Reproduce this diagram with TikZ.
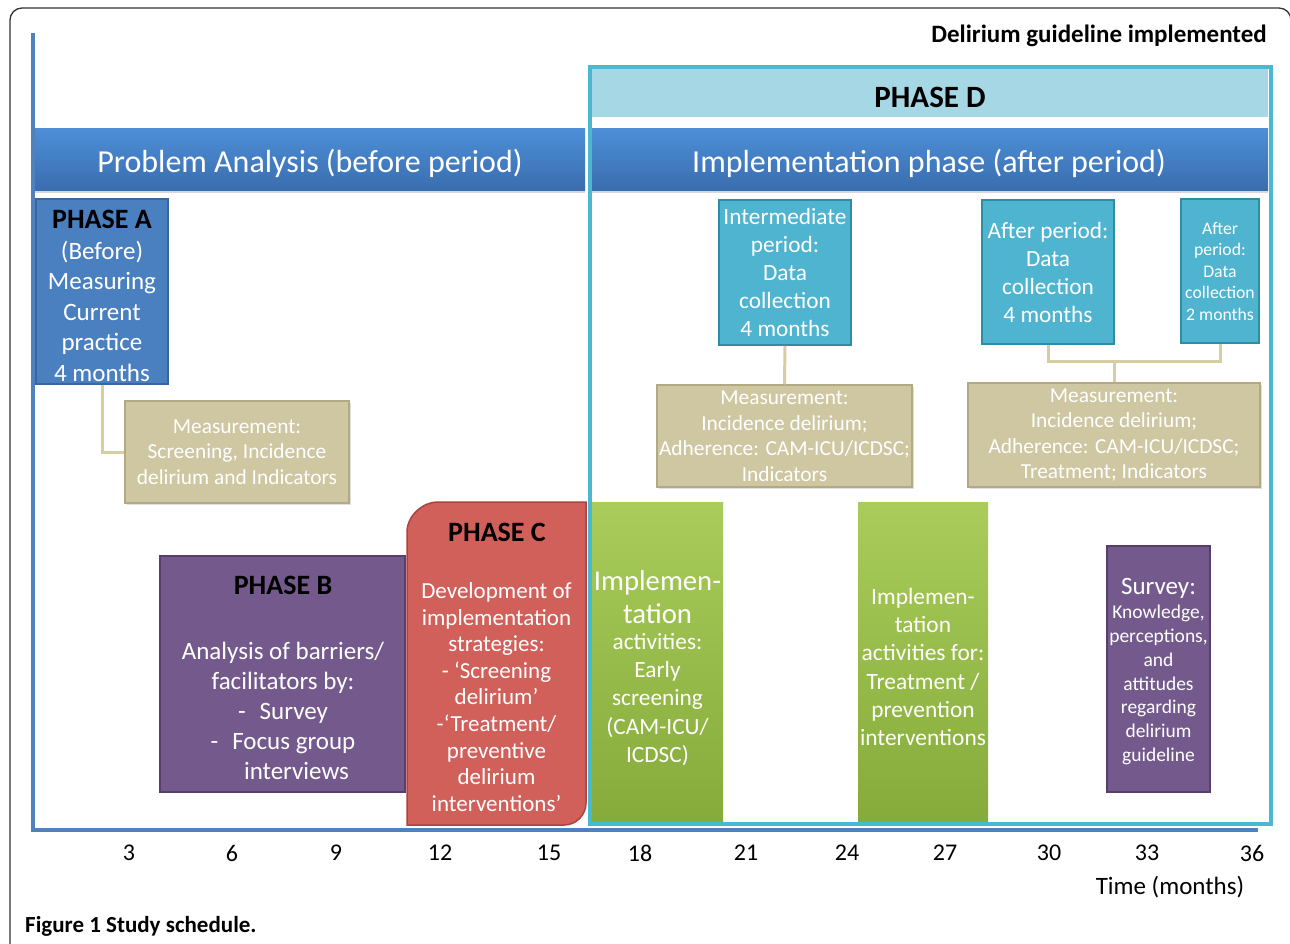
\documentclass[tikz,border=0pt]{standalone}
\usepackage{fontspec}
\setmainfont{Carlito}
\usetikzlibrary{shadows}
\newcommand{\fsz}[2]{\fontsize{#1}{#2}\selectfont}
\definecolor{axisblue}{HTML}{4F81BD}
\definecolor{hdrtop}{HTML}{4D8FD8}
\definecolor{hdrbot}{HTML}{3A6DAE}
\definecolor{dcyan}{HTML}{4BB8D2}
\definecolor{dband}{HTML}{A6D7E5}
\definecolor{pablue}{HTML}{4A80C0}
\definecolor{pablueb}{HTML}{3866A0}
\definecolor{tanfill}{HTML}{CEC7A1}
\definecolor{tanborder}{HTML}{B3AA84}
\definecolor{tanline}{HTML}{D6CDA3}
\definecolor{cyanfill}{HTML}{4FB4CF}
\definecolor{cyanborder}{HTML}{2E8CA6}
\definecolor{purfill}{HTML}{745A8C}
\definecolor{purborder}{HTML}{563F6D}
\definecolor{redfill}{HTML}{D1605A}
\definecolor{redborder}{HTML}{A94440}
\definecolor{grtop}{HTML}{A9CC5A}
\definecolor{grbot}{HTML}{86AB3B}
\definecolor{framegray}{HTML}{333333}
\tikzset{
  boxbase/.style={rectangle, inner sep=0pt, line width=1.5pt, align=center, text=white},
  hdr/.style={boxbase, top color=hdrtop, bottom color=hdrbot, draw=none, minimum height=62pt,
    font=\fsz{32}{36}, drop shadow={opacity=0.3, shadow xshift=0pt, shadow yshift=-3pt}},
  pabox/.style={boxbase, fill=pablue, draw=pablueb, minimum width=132pt, minimum height=185pt, font=\fsz{25}{30.5}},
  tanbox/.style={boxbase, fill=tanfill, draw=tanborder, font=\fsz{21.4}{25.5},
    drop shadow={opacity=0.25, shadow xshift=2pt, shadow yshift=-2pt}},
  cybox/.style={boxbase, fill=cyanfill, draw=cyanborder, font=\fsz{23.3}{28}},
  purbox/.style={boxbase, fill=purfill, draw=purborder},
  grbox/.style={boxbase, top color=grtop, bottom color=grbot, draw=none, minimum width=131pt, minimum height=320pt},
  wtext/.style={inner sep=0pt, align=center, text=white},
  btitle/.style={inner sep=0pt, font=\fsz{28}{30}\bfseries, text=black},
  conn/.style={draw=tanline, line width=3pt},
  axisline/.style={draw=axisblue, line width=4pt},
  axlab/.style={inner sep=0pt, font=\fsz{24}{24}, text=black},
}
\begin{document}
\begin{tikzpicture}[x=1pt,y=-1pt]
\useasboundingbox (0,0) rectangle (1290,943);
\fill[white] (0,0) rectangle (1290,943);
% outer frame
\draw[framegray, line width=1.3pt, rounded corners=12pt] (10,960) -- (10,8) -- (1291,8) -- (1291,960);

% axes
\coordinate (ytop) at (33,33);
\coordinate (orig) at (33,830);
\coordinate (xend) at (1258,830);

% Phase D band
\node[rectangle, fill=dband, minimum width=676pt, minimum height=49pt, inner sep=0pt] (bandD) at (930,92.5) {};
\node[btitle, font=\fsz{31}{32}\bfseries] (phaseD) at (930,97) {PHASE D};

% headers
\node[hdr, minimum width=551pt] (hdrA) at (309.5,159) {};
\node[wtext, font=\fsz{32}{36}] (hdrAt) at (310,163) {Problem Analysis (before period)};
\node[hdr, minimum width=676pt] (hdrD) at (930,159) {};
\node[wtext, font=\fsz{32}{36}] (hdrDt) at (929,163) {Implementation phase (after period)};

\node[inner sep=0pt, anchor=east, font=\fsz{25}{26}\bfseries] (impl) at (1267,36) {Delirium guideline implemented};

% Phase A
\node[pabox] (pA) at (102,291.5) {};
\node[wtext, font=\fsz{25}{30.5}] (pAt) at (102,296) {{\fsz{28}{30.5}\bfseries\color{black}PHASE A}\\(Before)\\Measuring\\Current\\practice\\4 months};
\node[tanbox, minimum width=224pt, minimum height=102pt] (m1) at (237,452)
  {Measurement:\\Screening, Incidence\\delirium and Indicators};
\draw[conn] (pA.south) |- (m1.west);

% Phase D data collection boxes
\node[cybox, minimum width=132pt, minimum height=145pt] (inter) at (785,272.5)
  {Intermediate\\period:\\Data\\collection\\4 months};
\node[cybox, minimum width=132pt, minimum height=144pt] (a4) at (1048,272)
  {After period:\\Data\\collection\\4 months};
\node[cybox, minimum width=78pt, minimum height=144pt, font=\fsz{17.7}{21.5}] (a2) at (1220,271)
  {After\\period:\\Data\\collection\\2 months};
\node[tanbox, minimum width=255pt, minimum height=102pt] (m2) at (784.5,436)
  {Measurement:\\Incidence delirium;\\Adherence: CAM-ICU/ICDSC;\\Indicators};
\node[tanbox, minimum width=292pt, minimum height=104pt] (m3) at (1114,435)
  {Measurement:\\Incidence delirium;\\Adherence: CAM-ICU/ICDSC;\\Treatment; Indicators};
\draw[conn] (inter.south) -- (m2.north);
\coordinate (jn) at (1113,361);
\draw[conn] (a4.south) -- (a4.south |- jn) -- (a2.south |- jn) -- (a2.south);
\draw[conn] (m3.north) -- (m3.north |- jn);

% Phase B
\node[purbox, minimum width=245pt, minimum height=236pt] (pB) at (282.5,674) {};
\node[btitle] (pBt) at (283,585) {PHASE B};
\node[wtext, font=\fsz{25}{30}] (pBb) at (283,711)
  {Analysis of barriers/\\facilitators by:\\-\hspace{14pt}Survey\\-\hspace{14pt}Focus group\\\hspace*{27pt}interviews};

% Phase C
\coordinate (cBL) at (407,825);
\coordinate (cTR) at (586,502);
\draw[fill=redfill, draw=redborder, line width=1.5pt]
  (407,825) -- (407,532) .. controls (407,515.4) and (423.4,502) .. (437,502)
  -- (586,502) -- (586,803) .. controls (586,815.1) and (576.1,825) .. (564,825) -- cycle;
\node[btitle] (pCt) at (497,532) {PHASE C};
\node[wtext, font=\fsz{23}{26.6}] (pCb) at (496.5,697)
  {Development of\\implementation\\strategies:\\- ‘Screening\\delirium’\\-‘Treatment/\\preventive\\delirium\\interventions’};

% Green implementation boxes
\node[grbox] (g1) at (657.5,662) {};
\node[wtext, font=\fsz{28.7}{33}] (g1a) at (657.5,597) {Implemen-\\tation};
\node[wtext, font=\fsz{23.3}{28.2}] (g1b) at (657.5,699.5) {activities:\\Early\\screening\\(CAM-ICU/\\ICDSC)};
\node[grbox, minimum width=130pt] (g2) at (923,662) {};
\node[wtext, font=\fsz{23.4}{28.2}] (g2t) at (923,667) {Implemen-\\tation\\activities for:\\Treatment /\\prevention\\interventions};

% Survey
\node[purbox, minimum width=103pt, minimum height=246pt] (sv) at (1158.5,669) {};
\node[wtext, font=\fsz{25}{26}] (svt) at (1158.5,588) {Survey:};
\node[wtext, font=\fsz{19.5}{23.8}] (svb) at (1158.5,685) {Knowledge,\\perceptions,\\and\\attitudes\\regarding\\delirium\\guideline};

% Phase D frame
\draw[dcyan, line width=4pt] (590,67) rectangle (1271,824);

% axes drawn
\draw[axisline] (ytop) -- (33,832);
\draw[axisline] (31,830) -- (xend);

% axis labels
\foreach \v/\xx in {3/129, 6/232, 9/336, 12/440, 15/549, 18/640, 21/746, 24/847, 27/945, 30/1049, 33/1147, 36/1252}
  \node[axlab] (t\v) at (\xx,853) {\v};
\node[axlab, font=\fsz{25}{26}] (tlab) at (1170,887) {Time (months)};
\node[inner sep=0pt, anchor=west, font=\fsz{23}{24}\bfseries] (cap) at (25,926) {Figure 1 Study schedule.};
\end{tikzpicture}
\end{document}
